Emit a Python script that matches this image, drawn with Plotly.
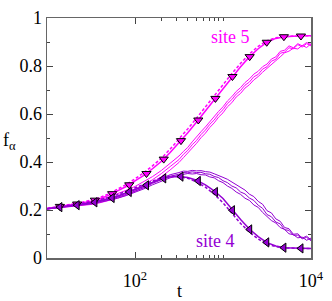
import math
import plotly.graph_objects as go

MAG = "#FF00FF"
PUR = "#9400D3"

# ---- data ----
t_theory = [10, 12.6, 15.8, 20, 25.1, 31.6, 39.8, 50.1, 63.1, 79.4, 100, 126, 158, 200, 251,
            316, 398, 501, 631, 794, 1000, 1259, 1585, 1995, 2512, 3162, 3981, 5012, 6310, 7943, 10000]

site5_solid = [.206, .211, .217, .222, .229, .237, .247, .261, .278, .298, .321, .344, .372, .403, .440,
               .480, .522, .567, .613, .659, .705, .752, .797, .838, .872, .899, .915, .922, .925, .926, .926]
site5_dashed = [.206, .212, .218, .224, .232, .241, .252, .267, .285, .306, .330, .355, .384, .416, .454,
                .495, .538, .583, .630, .676, .722, .768, .811, .850, .882, .905, .918, .923, .925, .926, .926]
site4_solid = [.205, .209, .214, .219, .224, .230, .237, .246, .257, .270, .284, .299, .315, .329, .338,
               .340, .335, .324, .305, .280, .248, .203, .160, .121, .089, .064, .050, .043, .041, .040, .040]
site4_dashed = [.205, .210, .215, .221, .228, .234, .242, .252, .264, .278, .293, .308, .323, .335, .341,
                .340, .332, .317, .295, .266, .230, .185, .144, .108, .079, .058, .047, .042, .040, .040, .040]

t_marks = [14, 22, 35, 55, 86, 135, 212, 333, 524, 820, 1280, 2010, 3140, 4920, 7690]
site5_marks = [.215, .225, .241, .268, .305, .352, .412, .489, .575, .665, .756, .839, .899, .922, .925]
site4_marks = [.212, .220, .232, .250, .275, .303, .332, .339, .321, .275, .199, .119, .065, .043, .040]

t_sim = [10, 12.6, 15.8, 20, 25.1, 31.6, 39.8, 50.1, 63.1, 79.4, 100, 126, 158, 200, 251,
         316, 355, 398, 447, 501, 562, 631, 708, 794, 891, 1000, 1122, 1259, 1413, 1585, 1778,
         1995, 2239, 2512, 2818, 3162, 3548, 3981, 4467, 5012, 5623, 6310, 7079, 7943, 8913, 10000]

site5_simA = [.206, .210, .215, .220, .226, .233, .242, .254, .267, .282, .298, .317, .339, .365, .393,
              .425, .444, .461, .484, .503, .526, .546, .569, .588, .611, .630, .654, .672, .694, .710, .731,
              .746, .766, .778, .797, .808, .829, .838, .861, .866, .884, .876, .893, .884, .898, .889]
site5_simB = [.205, .209, .213, .217, .222, .228, .236, .246, .258, .272, .287, .305, .326, .352, .381,
              .410, .432, .449, .472, .490, .514, .533, .557, .575, .600, .618, .643, .660, .683, .698, .720,
              .733, .755, .765, .787, .797, .820, .828, .853, .858, .876, .872, .889, .879, .893, .884]
site5_simC = [.204, .208, .211, .214, .218, .223, .230, .238, .249, .262, .276, .293, .314, .339, .367,
              .398, .418, .437, .458, .478, .501, .520, .544, .563, .587, .605, .630, .647, .671, .686, .708,
              .722, .742, .756, .774, .789, .806, .822, .838, .855, .862, .874, .871, .886, .877, .893]

site4_simA = [.206, .210, .214, .219, .224, .231, .238, .247, .257, .270, .283, .299, .316, .332, .347,
              .356, .362, .361, .365, .363, .364, .360, .358, .351, .345, .336, .328, .316, .306, .292, .283,
              .266, .256, .236, .224, .197, .188, .163, .153, .127, .122, .099, .101, .083, .091, .076]
site4_simB = [.205, .209, .213, .217, .222, .228, .235, .243, .253, .265, .278, .293, .311, .326, .341,
              .349, .356, .355, .359, .356, .357, .351, .349, .340, .335, .322, .314, .300, .292, .275, .267,
              .250, .240, .220, .207, .181, .172, .150, .142, .118, .115, .095, .095, .080, .086, .072]
site4_simC = [.204, .208, .212, .215, .220, .225, .232, .240, .249, .260, .273, .288, .305, .321, .334,
              .345, .348, .352, .350, .352, .347, .346, .338, .334, .322, .314, .300, .290, .275, .265, .249,
              .240, .221, .211, .190, .175, .156, .146, .127, .119, .101, .097, .084, .087, .074, .083]

y_ticks = [0, 0.2, 0.4, 0.6, 0.8, 1]
y_ticklabels = ["0", "0.2", "0.4", "0.6", "0.8", "1"]
x_ticks = [100, 10000]
x_ticklabels = ["10<sup>2</sup>", "10<sup>4</sup>"]
x_minor = [200, 300, 400, 500, 600, 700, 800, 900, 1000]

label5_t, label5_f = 1228, 0.92
label4_t, label4_f = 826, 0.072

fig = go.Figure()

for ys in (site5_simA, site5_simB, site5_simC):
    fig.add_trace(go.Scatter(x=t_sim, y=ys, mode="lines", line=dict(color=MAG, width=1)))
for ys in (site4_simA, site4_simB, site4_simC):
    fig.add_trace(go.Scatter(x=t_sim, y=ys, mode="lines", line=dict(color=PUR, width=1)))

fig.add_trace(go.Scatter(x=t_theory, y=site5_dashed, mode="lines",
                         line=dict(color=MAG, width=1.5, dash="3px,2px")))
fig.add_trace(go.Scatter(x=t_theory, y=site5_solid, mode="lines", line=dict(color=MAG, width=1.5)))
fig.add_trace(go.Scatter(x=t_theory, y=site4_dashed, mode="lines",
                         line=dict(color=PUR, width=1.5, dash="3px,2px")))
fig.add_trace(go.Scatter(x=t_theory, y=site4_solid, mode="lines", line=dict(color=PUR, width=1.5)))

fig.add_trace(go.Scatter(x=t_marks, y=site5_marks, mode="markers",
                         marker=dict(symbol="triangle-down", size=8, color=MAG,
                                     line=dict(color="black", width=1))))
fig.add_trace(go.Scatter(x=t_marks, y=site4_marks, mode="markers",
                         marker=dict(symbol="triangle-left", size=8, color=PUR,
                                     line=dict(color="black", width=1))))

serif = "Liberation Serif"
fig.update_layout(
    width=332, height=301,
    margin=dict(l=47, r=15, t=8, b=43),
    paper_bgcolor="white", plot_bgcolor="white",
    showlegend=False, hovermode=False,
    font=dict(family=serif, size=18, color="black"),
    xaxis=dict(type="log", range=[1, 4], showgrid=False, zeroline=False,
               showline=True, linecolor="#666", linewidth=1.5, mirror="ticks",
               ticks="inside", ticklen=6, tickcolor="#444", tickwidth=1,
               tickmode="array", tickvals=x_ticks, ticktext=x_ticklabels,
               ticklabeloverflow="allow", ticklabelstandoff=6,
               tickfont=dict(family=serif, size=18, color="black"),
               minor=dict(tickmode="array", tickvals=x_minor, ticks="inside",
                          ticklen=3, tickcolor="#444", showgrid=False)),
    yaxis=dict(range=[0, 1], showgrid=False, zeroline=False,
               showline=True, linecolor="#666", linewidth=1.5, mirror="ticks",
               ticks="inside", ticklen=6, tickcolor="#444", tickwidth=1,
               tickmode="array", tickvals=y_ticks, ticktext=y_ticklabels,
               ticklabeloverflow="allow",
               tickfont=dict(family=serif, size=18, color="black"),
               minor=dict(dtick=0.1, ticks="inside", ticklen=3, tickcolor="#444", showgrid=False)),
)

# annotations on a log axis take log10 coordinates
fig.add_annotation(x=math.log10(label5_t), y=label5_f, xref="x", yref="y", text="site 5",
                   showarrow=False, font=dict(family=serif, size=18, color=MAG))
fig.add_annotation(x=math.log10(label4_t), y=label4_f, xref="x", yref="y", text="site 4",
                   showarrow=False, font=dict(family=serif, size=18, color=PUR))
fig.add_annotation(x=(182 - 47) / 270, y=(258 - 292) / 250, xref="paper", yref="paper",
                   xanchor="center", yanchor="middle",
                   text="t", showarrow=False, font=dict(family=serif, size=18))
fig.add_annotation(x=(9 - 47) / 270, y=(258 - 137) / 250, xref="paper", yref="paper",
                   xanchor="center", yanchor="middle",
                   text="f<sub>α</sub>", showarrow=False, font=dict(family=serif, size=18))

fig.write_html("out.html", config={"displayModeBar": False, "staticPlot": True},
               post_script="document.body.style.margin='0';document.body.style.overflow='hidden';")
